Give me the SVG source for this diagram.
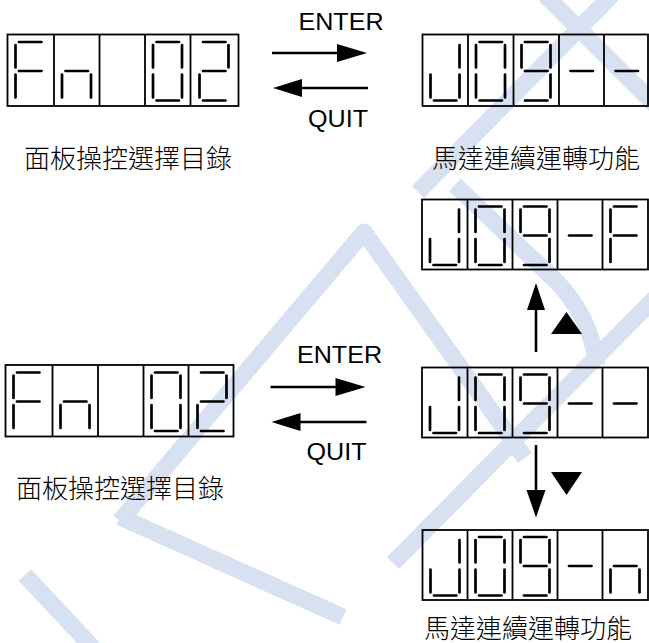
<svg xmlns="http://www.w3.org/2000/svg" xmlns:xlink="http://www.w3.org/1999/xlink" width="649" height="643" viewBox="0 0 649 643">
<style>
.frame{fill:none;stroke:#000;stroke-width:1.8}
.div{stroke:#000;stroke-width:1.8}
.seg{stroke:#000;stroke-width:2.7;stroke-linecap:round;fill:none}
.lat{font-family:"Liberation Sans",Arial,sans-serif;font-size:23.5px;fill:#000}
.cjk{font-family:"Noto Sans CJK TC","Noto Sans CJK SC",sans-serif;font-size:26px;font-weight:300;fill:#000}
.ln{stroke:#000;stroke-width:2.6}
.wm{fill:none;stroke:#d7e1f2;stroke-width:17;stroke-linecap:butt;stroke-linejoin:round}
</style>
<defs>
<path id="d-F" class="seg" d="M11.5,7.5H34M8,10.5V33M8,40V63M11.5,36.5H34"/>
<path id="d-n" class="seg" d="M11.5,36.5H34M8,40V63M37,40V63"/>
<path id="d-0" class="seg" d="M11.5,7.5H34M8,10.5V33M8,40V63M37,10.5V33M37,40V63M11.5,66H34"/>
<path id="d-2" class="seg" d="M11.5,7.5H34M37,10.5V33M11.5,36.5H34M8,40V63M11.5,66H34"/>
<path id="d-J" class="seg" d="M37,10.5V33M37,40V63M8,40V63M11.5,66H34"/>
<path id="d-9" class="seg" d="M11.5,7.5H34M8,10.5V33M37,10.5V33M11.5,36.5H34M37,40V63M11.5,66H34"/>
<path id="d-m" class="seg" d="M11.5,36.5H34"/>
</defs>
<rect width="649" height="643" fill="#fff"/>

<g id="watermark">
<path class="wm" d="M612,-5L418,192"/>
<path class="wm" d="M545,-5L655,105"/>
<path class="wm" d="M455,185L555,280Q590,315 597,365"/>
<path class="wm" d="M120,521L364,232L525,458"/>
<path class="wm" d="M655,298L393,563"/>
<path class="wm" d="M120,517L343,617"/>
<path class="wm" d="M25,575L95,650"/>
</g>

<g id="display-fn-top">
<rect class="frame" x="7.5" y="34.5" width="231" height="71.5"/>
<path class="div" d="M54,34.5V106M99.5,34.5V106M145,34.5V106M190.5,34.5V106"/>
<use xlink:href="#d-F" x="7.5" y="34.5"/>
<use xlink:href="#d-n" x="54" y="34.5"/>
<use xlink:href="#d-0" x="145" y="34.5"/>
<use xlink:href="#d-2" x="191.5" y="34.5"/>
</g>
<g id="display-jog-top">
<rect class="frame" x="422.5" y="34.5" width="225.5" height="71.5"/>
<path class="div" d="M468,34.5V106M513.5,34.5V106M559,34.5V106M604,34.5V106"/>
<use xlink:href="#d-J" x="422.5" y="34.5"/>
<use xlink:href="#d-0" x="468" y="34.5"/>
<use xlink:href="#d-9" x="513.5" y="34.5"/>
<use xlink:href="#d-m" x="559" y="34.5"/>
<use xlink:href="#d-m" x="604" y="34.5"/>
</g>
<g id="display-jog-f">
<rect class="frame" x="422" y="199.5" width="226" height="70"/>
<path class="div" d="M467.5,199.5V269.5M512.5,199.5V269.5M557.5,199.5V269.5M602.5,199.5V269.5"/>
<use xlink:href="#d-J" x="422" y="199"/>
<use xlink:href="#d-0" x="467.5" y="199"/>
<use xlink:href="#d-9" x="512.5" y="199"/>
<use xlink:href="#d-m" x="557.5" y="199"/>
<use xlink:href="#d-F" x="602.5" y="199"/>
</g>
<g id="display-fn-bottom">
<rect class="frame" x="5.5" y="365" width="228" height="71.5"/>
<path class="div" d="M52.5,365V436.5M98,365V436.5M143.5,365V436.5M188.5,365V436.5"/>
<use xlink:href="#d-F" x="5.5" y="365"/>
<use xlink:href="#d-n" x="52.5" y="365"/>
<use xlink:href="#d-0" x="143.5" y="365"/>
<use xlink:href="#d-2" x="189.5" y="365"/>
</g>
<g id="display-jog-mid">
<rect class="frame" x="422" y="367.5" width="226" height="70"/>
<path class="div" d="M467.5,367.5V437.5M512.5,367.5V437.5M557.5,367.5V437.5M602.5,367.5V437.5"/>
<use xlink:href="#d-J" x="422" y="367"/>
<use xlink:href="#d-0" x="467.5" y="367"/>
<use xlink:href="#d-9" x="512.5" y="367"/>
<use xlink:href="#d-m" x="557.5" y="367"/>
<use xlink:href="#d-m" x="602.5" y="367"/>
</g>
<g id="display-jog-n">
<rect class="frame" x="422.5" y="530" width="225.5" height="70"/>
<path class="div" d="M467.5,530V600M512.5,530V600M557.5,530V600M602.5,530V600"/>
<use xlink:href="#d-J" x="422.5" y="529.5"/>
<use xlink:href="#d-0" x="467.5" y="529.5"/>
<use xlink:href="#d-9" x="512.5" y="529.5"/>
<use xlink:href="#d-m" x="557.5" y="529.5"/>
<use xlink:href="#d-n" x="602.5" y="529.5"/>
</g>

<g id="labels">
<text class="cjk" x="24" y="167.5">面板操控選擇目錄</text>
<text class="cjk" x="432" y="167.5">馬達連續運轉功能</text>
<text class="cjk" x="16" y="498">面板操控選擇目錄</text>
<text class="cjk" x="424" y="637.5">馬達連續運轉功能</text>
<text class="lat" x="298.5" y="29.5" textLength="85" lengthAdjust="spacingAndGlyphs">ENTER</text>
<text class="lat" x="308" y="126.5" textLength="60" lengthAdjust="spacingAndGlyphs">QUIT</text>
<text class="lat" x="297" y="363" textLength="85" lengthAdjust="spacingAndGlyphs">ENTER</text>
<text class="lat" x="306.5" y="460" textLength="60" lengthAdjust="spacingAndGlyphs">QUIT</text>
</g>

<g id="connectors">
<line class="ln" x1="272" y1="53" x2="340" y2="53"/>
<polygon points="337,44 367,53 337,62"/>
<line class="ln" x1="368" y1="88" x2="300" y2="88"/>
<polygon points="302,79 273,88 302,97"/>
<line class="ln" x1="270.5" y1="387" x2="338.5" y2="387"/>
<polygon points="335.5,378 365.5,387 335.5,396"/>
<line class="ln" x1="366.5" y1="422" x2="298.5" y2="422"/>
<polygon points="300.5,413 271.5,422 300.5,431"/>
<line class="ln" x1="536" y1="352" x2="536" y2="308"/>
<polygon points="527,310 536,283 545,310"/>
<polygon points="551,334 582,334 566.5,312"/>
<line class="ln" x1="536" y1="445" x2="536" y2="492"/>
<polygon points="526.5,490 536,517.5 545.5,490"/>
<polygon points="551,472 582,472 566.5,495"/>
</g>
</svg>
